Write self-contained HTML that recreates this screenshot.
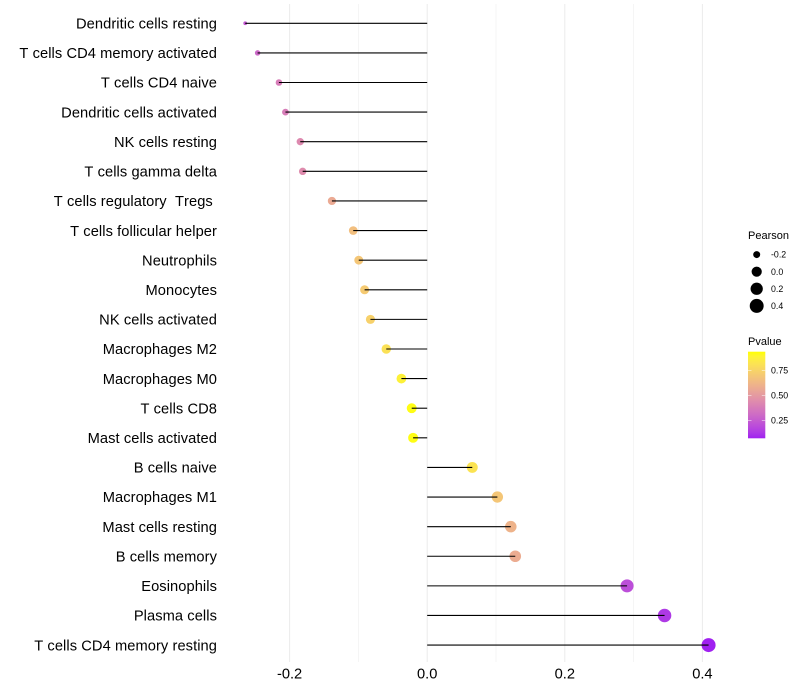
<!DOCTYPE html>
<html>
<head>
<meta charset="utf-8">
<title>Immune cell correlation lollipop chart</title>
<style>
html,body{margin:0;padding:0;background:#fff;}
svg{display:block;font-family:"Liberation Sans",sans-serif;}
text{white-space:pre;font-kerning:none;}
.cat{letter-spacing:0.075px;}
</style>
</head>
<body>
<svg id="chart" xmlns="http://www.w3.org/2000/svg" width="800" height="700" viewBox="0 0 800 700">
<rect x="0" y="0" width="800" height="700" fill="#fff"/>
</svg>
<script>
const categories = ["Dendritic cells resting","T cells CD4 memory activated","T cells CD4 naive","Dendritic cells activated","NK cells resting","T cells gamma delta","T cells regulatory  Tregs ","T cells follicular helper","Neutrophils","Monocytes","NK cells activated","Macrophages M2","Macrophages M0","T cells CD8","Mast cells activated","B cells naive","Macrophages M1","Mast cells resting","B cells memory","Eosinophils","Plasma cells","T cells CD4 memory resting"];
const pearson = [-0.2645,-0.2465,-0.2155,-0.206,-0.1845,-0.181,-0.1385,-0.1075,-0.0995,-0.091,-0.0825,-0.0595,-0.0375,-0.0225,-0.0205,0.0655,0.102,0.1215,0.128,0.2905,0.345,0.409];
const pvalue = [0.24,0.30,0.38,0.38,0.43,0.44,0.57,0.66,0.69,0.71,0.74,0.81,0.88,0.93,0.93,0.82,0.69,0.61,0.58,0.20,0.13,0.07];
const xTicks = [-0.2,0.0,0.2,0.4];
const xMinorTicks = [-0.1,0.1,0.3];
const sizeLegendValues = [-0.2,0.0,0.2,0.4];
const colorLegendValues = [0.25,0.50,0.75];
const pRange = [0.069,0.94];

const svg = document.getElementById('chart');
const NS = 'http://www.w3.org/2000/svg';
function mk(tag, attrs, parent, txt){
  const e = document.createElementNS(NS, tag);
  for (const k in attrs) e.setAttribute(k, attrs[k]);
  if (txt !== undefined) e.textContent = txt;
  (parent || svg).appendChild(e);
  return e;
}
function xScale(v){ return 427.2 + v * 688; }
function yScale(i){ return 23.28 + i * 29.61; }
function rScale(v){
  const lo = Math.min(...pearson), hi = Math.max(...pearson);
  const t = Math.max(0, Math.min(1, (v - lo) / (hi - lo)));
  return 1.9 + 5.1 * Math.sqrt(t);
}
function lin(c){ c/=255; return c<=0.04045 ? c/12.92 : Math.pow((c+0.055)/1.055,2.4); }
function gam(c){ const v = c<=0.0031308 ? 12.92*c : 1.055*Math.pow(c,1/2.4)-0.055; return Math.round(255*Math.max(0,Math.min(1,v))); }
function toLab(rgb){
  const r=lin(rgb[0]), g=lin(rgb[1]), b=lin(rgb[2]);
  const X=(0.4124564*r+0.3575761*g+0.1804375*b)/0.95047, Y=0.2126729*r+0.7151522*g+0.072175*b, Z=(0.0193339*r+0.119192*g+0.9503041*b)/1.08883;
  const f=t=>t>0.008856?Math.cbrt(t):7.787*t+16/116;
  return [116*f(Y)-16, 500*(f(X)-f(Y)), 200*(f(Y)-f(Z))];
}
function fromLab(l){
  const fy=(l[0]+16)/116, fx=fy+l[1]/500, fz=fy-l[2]/200;
  const g=t=>t*t*t>0.008856?t*t*t:(t-16/116)/7.787;
  const X=g(fx)*0.95047, Y=g(fy), Z=g(fz)*1.08883;
  return 'rgb('+gam(3.2404542*X-1.5371385*Y-0.4985314*Z)+','+gam(-0.969266*X+1.8760108*Y+0.041556*Z)+','+gam(0.0556434*X-0.2040259*Y+1.0572252*Z)+')';
}
const labLow = toLab([160,32,240]), labHigh = toLab([255,255,0]);
function colorScale(p){
  const t = Math.max(0, Math.min(1, (p - pRange[0]) / (pRange[1] - pRange[0])));
  return fromLab([0,1,2].map(i => labLow[i] + (labHigh[i] - labLow[i]) * t));
}

/* grid */
const PT = 4, PB = 662;
xMinorTicks.forEach(v => {
  const l = mk('line', {x1:xScale(v), x2:xScale(v), y1:PT, y2:PB, stroke:'#ebebeb', 'stroke-width':0.5});
  
  
});
xTicks.forEach(v => {
  const l = mk('line', {x1:xScale(v), x2:xScale(v), y1:PT, y2:PB, stroke:'#ebebeb', 'stroke-width':1});
  
  
  const t = mk('text', {x:xScale(v), y:678.5, 'text-anchor':'middle', 'font-size':14.67, fill:'#000'}, svg, v.toFixed(1));
  
  
});

/* marks */
categories.forEach((name, i) => {
  const y = yScale(i), v = pearson[i];
  const lab = mk('text', {class:'cat', x:217, y:y+5.2, 'text-anchor':'end', 'font-size':14.67, fill:'#000'}, svg, name);
  
  
  const c = mk('circle', {cx:xScale(v), cy:y, r:rScale(v), fill:colorScale(pvalue[i])});
  
  
  const l = mk('line', {x1:xScale(0), x2:xScale(v), y1:y, y2:y, stroke:'#000', 'stroke-width':1.1});
  
  
});

/* size legend */
const t1 = mk('text', {x:748, y:239, 'font-size':11, fill:'#000'}, svg, 'Pearson');


sizeLegendValues.forEach((v, i) => {
  const y = 254.6 + i * 17.1;
  const c = mk('circle', {cx:756.7, cy:y, r:rScale(v), fill:'#000'});
  
  
  const t = mk('text', {x:771, y:y+3.1, 'font-size':8.8, fill:'#000'}, svg, v.toFixed(1));
  
  
});

/* colour legend */
const t2 = mk('text', {x:748, y:345, 'font-size':11, fill:'#000'}, svg, 'Pvalue');


const barTop = 351.7, barBottom = 438.3, barL = 748, barR = 765.3;
const defs = mk('defs', {});
const grad = mk('linearGradient', {id:'pgrad', x1:0, y1:1, x2:0, y2:0}, defs);
for (let s = 0; s <= 20; s++) {
  const p = pRange[0] + (pRange[1] - pRange[0]) * s / 20;
  mk('stop', {offset:(s/20), 'stop-color':colorScale(p)}, grad);
}
const bar = mk('rect', {x:barL, y:barTop, width:barR-barL, height:barBottom-barTop, fill:'url(#pgrad)'});


function pLegendY(p){ return barBottom - (p - pRange[0]) / (pRange[1] - pRange[0]) * (barBottom - barTop); }
colorLegendValues.forEach(p => {
  const y = pLegendY(p);
  [[barL, barL+3.5],[barR-3.5, barR]].forEach(seg => {
    const k = mk('line', {x1:seg[0], x2:seg[1], y1:y, y2:y, stroke:'#fff', 'stroke-width':0.5});
    
    
  });
  const t = mk('text', {x:771, y:y+3.1, 'font-size':8.8, fill:'#000'}, svg, p.toFixed(2));
  
  
});
</script>
</body>
</html>
